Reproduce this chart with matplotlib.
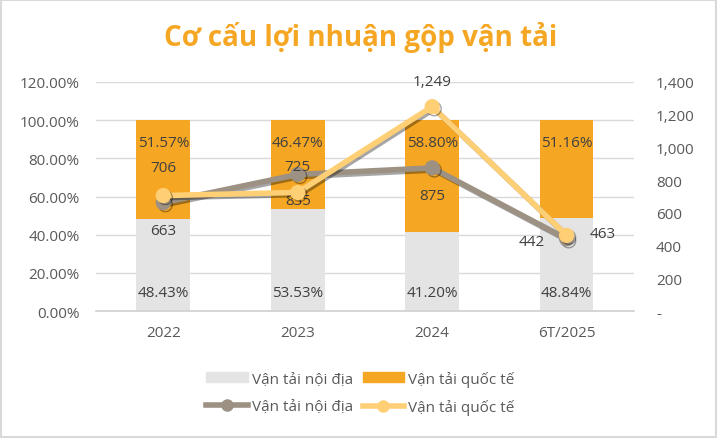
import matplotlib
matplotlib.use('Agg')
import matplotlib.pyplot as plt
import matplotlib.patheffects as pe
from matplotlib.patches import Patch, Rectangle
from matplotlib.lines import Line2D
from matplotlib.ticker import FuncFormatter

plt.rcParams['font.family'] = ['Open Sans', 'DejaVu Sans']

# dữ liệu
years = ['2022', '2023', '2024', '6T/2025']
share_domestic = [48.43, 53.53, 41.20, 48.84]
share_intl = [51.57, 46.47, 58.80, 51.16]
profit_domestic = [663, 835, 875, 442]
profit_intl = [706, 725, 1249, 463]

C_DOM_BAR = '#E4E4E4'
C_INT_BAR = '#F5A623'
C_DOM_LINE = '#9C9183'
C_INT_LINE = '#FFCF75'
C_TEXT = '#404040'
C_AXIS = '#595959'
FS = 11

fig = plt.figure(figsize=(7.17, 4.39), dpi=100)
fig.patches.append(Rectangle((0.001, 0.002), 0.997, 0.995, transform=fig.transFigure,
                             fill=False, edgecolor='#D9D9D9', linewidth=1.5))
ax = fig.add_axes([0.134, 0.289, 0.750, 0.522])
x = range(len(years))

ax.bar(x, share_domestic, width=0.40, color=C_DOM_BAR, zorder=2)
ax.bar(x, share_intl, width=0.40, bottom=share_domestic, color=C_INT_BAR, zorder=2)

for i in x:
    ax.annotate(f'{share_domestic[i]:.2f}%', (i, 0), xytext=(0, 8), textcoords='offset points',
                ha='center', va='bottom', fontsize=FS, color=C_TEXT, zorder=5)
    ax.annotate(f'{share_intl[i]:.2f}%', (i, 100), xytext=(0, -11), textcoords='offset points',
                ha='center', va='top', fontsize=FS, color=C_TEXT, zorder=5)

ax.set_ylim(0, 120)
ax.set_yticks(range(0, 121, 20))
ax.yaxis.set_major_formatter(FuncFormatter(lambda v, p: f'{v:.2f}%'))
ax.set_xlim(-0.5, len(years) - 0.5)
ax.set_xticks(list(x))
ax.set_xticklabels(years)
ax.grid(axis='y', color='#D9D9D9', linewidth=1, zorder=0)
ax.set_axisbelow(True)
for s in ['top', 'right', 'left']:
    ax.spines[s].set_visible(False)
ax.spines['bottom'].set_color('#D0D0D0')
ax.spines['bottom'].set_linewidth(1.2)
ax.tick_params(length=0, labelsize=FS, colors=C_AXIS, pad=10)
ax.tick_params(axis='y', pad=12)

ax2 = ax.twinx()
shadow = [pe.SimpleLineShadow(offset=(1.5, -1.5), alpha=0.35), pe.Normal()]
ax2.plot(x, profit_domestic, color=C_DOM_LINE, lw=4, marker='o', ms=10, path_effects=shadow, zorder=3)
ax2.plot(x, profit_intl, color=C_INT_LINE, lw=4, marker='o', ms=10, path_effects=shadow, zorder=4)
ax2.set_ylim(0, 1400)
ax2.set_yticks(range(0, 1401, 200))
ax2.yaxis.set_major_formatter(FuncFormatter(lambda v, p: '-' if v == 0 else f'{v:,.0f}'))
for s in ax2.spines.values():
    s.set_visible(False)
ax2.tick_params(length=0, labelsize=FS, colors=C_AXIS, pad=16)

dom_off = [(0, -20), (0, -19), (0, -20), (-25, -2)]
int_off = [(0, 20), (0, 19), (0, 18), (26, 1)]
for i in x:
    ax2.annotate(f'{profit_domestic[i]:,}', (i, profit_domestic[i]), xytext=dom_off[i],
                 textcoords='offset points', ha='center', va='center', fontsize=FS, color=C_TEXT)
    ax2.annotate(f'{profit_intl[i]:,}', (i, profit_intl[i]), xytext=int_off[i],
                 textcoords='offset points', ha='center', va='center', fontsize=FS, color=C_TEXT)

fig.text(0.503, 0.915, 'Cơ cấu lợi nhuận gộp vận tải', ha='center', va='center',
         fontsize=20, fontweight='bold', color='#F5A623')

handles = [
    Patch(color=C_DOM_BAR, label='Vận tải nội địa'),
    Line2D([], [], color=C_DOM_LINE, lw=4, marker='o', ms=8, label='Vận tải nội địa'),
    Patch(color=C_INT_BAR, label='Vận tải quốc tế'),
    Line2D([], [], color=C_INT_LINE, lw=4, marker='o', ms=8, label='Vận tải quốc tế'),
]
fig.legend(handles=handles, ncol=2, loc='center', bbox_to_anchor=(0.503, 0.103), frameon=False,
           fontsize=FS, labelcolor=C_AXIS, handlelength=2.7, handletextpad=0.3,
           columnspacing=0.6, labelspacing=0.8, handleheight=0.6)

fig.savefig('out.png', dpi=100, facecolor='white')
